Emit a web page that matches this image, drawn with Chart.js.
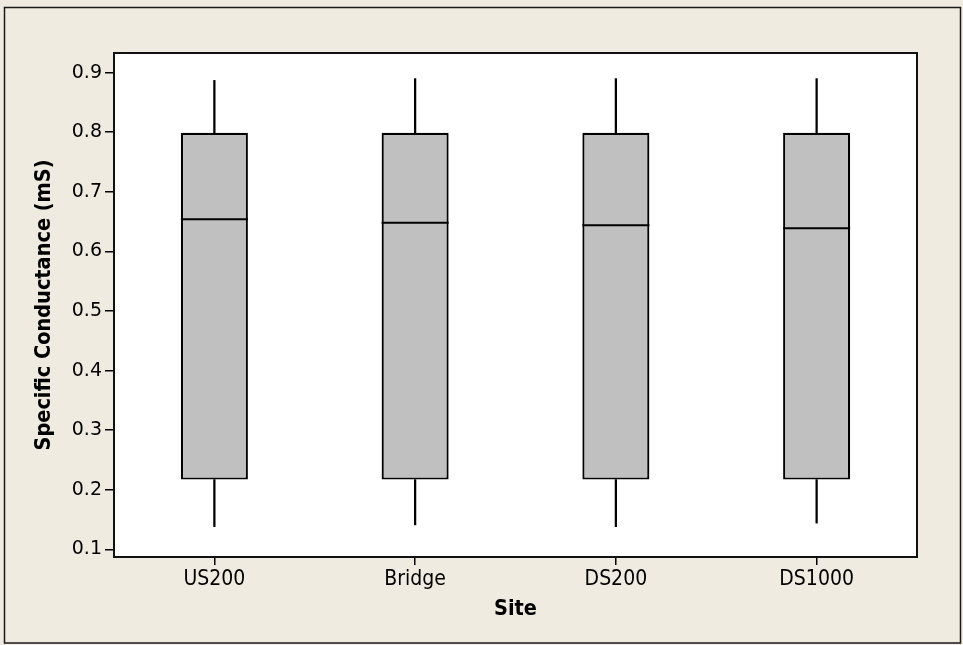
<!DOCTYPE html>
<html>
<head>
<meta charset="utf-8">
<script src="https://cdn.jsdelivr.net/npm/chart.js@4.4.1/dist/chart.umd.min.js"></script>
<style>
  html, body { margin: 0; padding: 0; background: #EFEBE0; }
  canvas { display: block; }
</style>
</head>
<body>
<canvas id="c" width="963" height="645" style="width:963px;height:645px"></canvas>
<script>
// ---- data ----
const categories   = ['US200', 'Bridge', 'DS200', 'DS1000'];
const whiskerLow   = [0.138, 0.141, 0.138, 0.144];
const q1           = [0.217, 0.217, 0.217, 0.217];
const median       = [0.654, 0.648, 0.644, 0.639];
const q3           = [0.799, 0.799, 0.799, 0.799];
const whiskerHigh  = [0.887, 0.890, 0.890, 0.890];
const yTickValues  = [0.1, 0.2, 0.3, 0.4, 0.5, 0.6, 0.7, 0.8, 0.9];
const xTitle = 'Site';
const yTitle = 'Specific Conductance (mS)';

const BG = '#EFEBE0';
const INK = '#000000';
const tickFont = { family: "'DejaVu Sans', sans-serif", size: 19 };
const xTickFont = { family: "'DejaVu Sans Condensed', 'DejaVu Sans', sans-serif", size: 21 };
const titleFont = { family: "'DejaVu Sans Condensed', 'DejaVu Sans', sans-serif", size: 21.5, weight: 'bold' };

const framePlugin = {
  id: 'frame',
  beforeDraw(chart) {
    const { ctx, chartArea: a } = chart;
    ctx.save();
    ctx.fillStyle = BG;
    ctx.fillRect(0, 0, chart.width, chart.height);
    ctx.fillStyle = '#ffffff';
    ctx.fillRect(a.left, a.top, a.right - a.left, a.bottom - a.top);
    // outer border
    ctx.strokeStyle = '#1a1a1a';
    ctx.lineWidth = 1.5;
    ctx.strokeRect(4.5, 7.5, 956, 635.5);
    ctx.restore();
  },
  afterDraw(chart) {
    const { ctx, chartArea: a } = chart;
    ctx.save();
    ctx.strokeStyle = '#111111';
    ctx.lineWidth = 2;
    ctx.strokeRect(a.left, a.top, a.right - a.left, a.bottom - a.top);
    ctx.restore();
  }
};

new Chart(document.getElementById('c'), {
  type: 'bar',
  data: {
    labels: categories,
    datasets: [
      {
        type: 'line',
        label: 'Median',
        data: median,
        showLine: false,
        pointStyle: 'line',
        pointRadius: 33.5,
        pointHoverRadius: 33.5,
        pointBorderWidth: 2,
        borderColor: INK,
        backgroundColor: INK,
        order: 0
      },
      {
        label: 'IQR box',
        data: categories.map((c, i) => [q1[i], q3[i]]),
        backgroundColor: '#C0C0C0',
        borderColor: INK,
        borderWidth: 2.2,
        borderSkipped: false,
        barPercentage: 0.334,
        categoryPercentage: 1,
        grouped: false,
        order: 1
      },
      {
        label: 'Upper whisker',
        data: categories.map((c, i) => [q3[i], whiskerHigh[i]]),
        backgroundColor: INK,
        borderWidth: 0,
        barThickness: 1.6,
        grouped: false,
        order: 2
      },
      {
        label: 'Lower whisker',
        data: categories.map((c, i) => [whiskerLow[i], q1[i]]),
        backgroundColor: INK,
        borderWidth: 0,
        barThickness: 1.6,
        grouped: false,
        order: 2
      }
    ]
  },
  options: {
    responsive: false,
    animation: false,
    devicePixelRatio: 1,
    layout: { padding: { top: 53, right: 46, left: 0, bottom: 0 } },
    plugins: {
      legend: { display: false },
      tooltip: { enabled: false }
    },
    scales: {
      x: {
        type: 'category',
        offset: true,
        grid: { display: true, drawOnChartArea: false, drawTicks: true, tickLength: 8, offset: false, color: INK, lineWidth: 1.5 },
        border: { display: true, color: '#111111', width: 2 },
        ticks: { color: INK, font: xTickFont, padding: 2, maxRotation: 0, autoSkip: false },
        title: { display: true, text: xTitle, color: INK, font: titleFont, padding: { top: 0, bottom: 23 } },
        afterFit(scale) { scale.height = 88; }
      },
      y: {
        type: 'linear',
        min: 0.0871,
        max: 0.933,
        afterBuildTicks(scale) { scale.ticks = yTickValues.map(v => ({ value: v })); },
        grid: { display: true, drawOnChartArea: false, drawTicks: true, tickLength: 9, color: INK, lineWidth: 1.5 },
        border: { display: true, color: '#111111', width: 2 },
        ticks: { color: INK, font: tickFont, padding: 3, callback: v => Number(v).toFixed(1) },
        title: { display: true, text: yTitle, color: INK, font: titleFont, padding: { top: 32, bottom: 0 } },
        afterFit(scale) { scale.width = 114; }
      }
    }
  },
  plugins: [framePlugin]
});
</script>
</body>
</html>
